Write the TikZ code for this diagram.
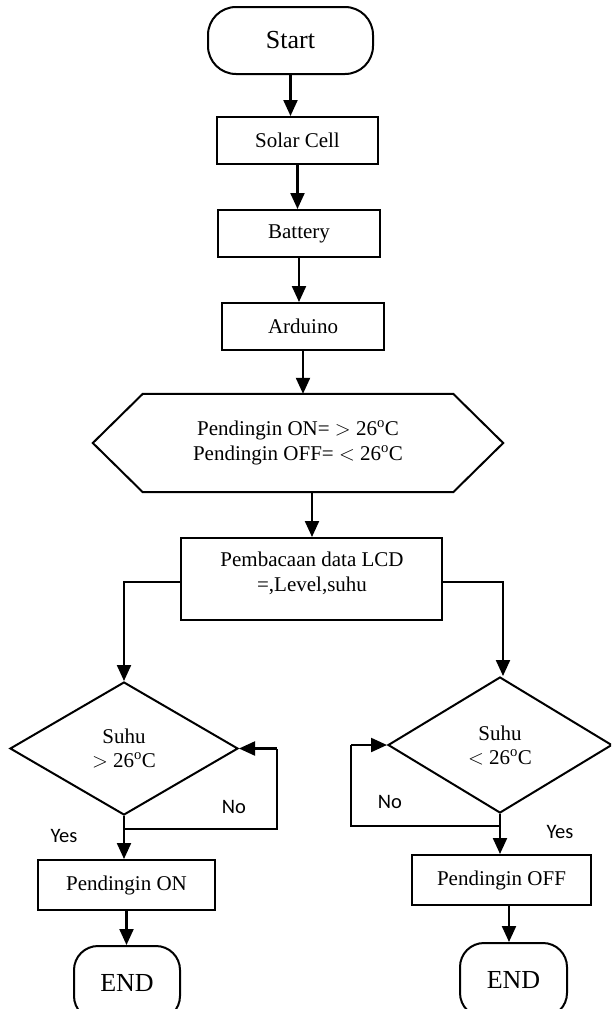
\documentclass[tikz,border=0pt]{standalone}
\usepackage{fontspec}
\setmainfont{Liberation Serif}
\newfontfamily\lblfont{Carlito}
\usetikzlibrary{shapes.geometric,arrows.meta,calc}
\begin{document}
\begin{tikzpicture}[x=1pt,y=-1pt,
  box/.style={draw,line width=2pt,inner sep=0pt,font=\fontsize{21}{25}\selectfont,align=center},
  term/.style={box,rounded corners=28pt,font=\fontsize{26}{30}\selectfont},
  endterm/.style={box,rounded corners=24pt,font=\fontsize{26}{30}\selectfont},
  dec/.style={draw,diamond,line width=2pt,inner sep=0pt,font=\fontsize{21}{24}\selectfont,align=center},
  txt/.style={font=\fontsize{21}{25}\selectfont,align=center,inner sep=0pt},
  arr/.style={line width=2.2pt,-{Triangle[length=16pt,width=14pt]}},
  conn/.style={line width=2.2pt},
  lbl/.style={font=\lblfont\fontsize{20.5}{24}\selectfont}]
\clip (0,0) rectangle (611,1009);
\fill[white] (0,0) rectangle (611,1009);

\node[term,minimum width=165pt,minimum height=67pt] (start) at (290.5,40.5) {Start};
\node[box,minimum width=161pt,minimum height=47pt] (solar) at (297.5,140.5) {Solar Cell};
\node[box,minimum width=162pt,minimum height=47pt] (battery) at (299,233.5) {Battery};
\node[box,minimum width=162pt,minimum height=47pt] (arduino) at (303,326.5) {Arduino};
\node[txt,minimum width=410pt,minimum height=98pt] (hex) at (298,443)
  {Pendingin ON= $>$ 26\textsuperscript{o}C\\Pendingin OFF= $<$ 26\textsuperscript{o}C};
\draw[line width=2pt] (hex.west) -- ($(hex.north west)+(50,0)$) -- ($(hex.north east)+(-50,0)$) -- (hex.east)
  -- ($(hex.south east)+(-50,0)$) -- ($(hex.south west)+(50,0)$) -- cycle;
\node[box,minimum width=261pt,minimum height=82pt] (lcd) at (311.5,579) {};
\node[txt] (lcdtext) at (312,573) {Pembacaan data LCD\\=,Level,suhu};

\node[dec,minimum width=228pt,minimum height=133pt] (d1) at (124,748.5) {Suhu\\$>$ 26\textsuperscript{o}C};
\node[dec,minimum width=224pt,minimum height=136pt] (d2) at (500,745) {Suhu\\$<$ 26\textsuperscript{o}C};

\node[box,minimum width=177pt,minimum height=50pt] (on) at (126.5,885) {Pendingin ON};
\node[box,minimum width=179pt,minimum height=50pt] (off) at (501.5,880) {Pendingin OFF};

\node[endterm,minimum width=106pt,minimum height=74pt] (end1) at (127,983) {END};
\node[endterm,minimum width=107pt,minimum height=74pt] (end2) at (513.5,980) {END};

\coordinate (l1) at (124,582);
\coordinate (r1) at (503,582);
\coordinate (lj) at (124,829);
\coordinate (lc1) at (277,829);
\coordinate (lc2) at (277,748.5);
\coordinate (rj) at (500,826);
\coordinate (rc1) at (351,826);
\coordinate (rc2) at (351,745);
\coordinate (o2) at (509,905);

\draw[arr] (start.south) -- (start.south |- solar.north);
\draw[arr] (solar.south) -- (solar.south |- battery.north);
\draw[arr] (battery.south) -- (battery.south |- arduino.north);
\draw[arr] (arduino.south) -- (arduino.south |- hex.north);
\draw[arr] (hex.south -| lcdtext.north) -- (lcdtext.north |- lcd.north);

\draw[arr] (lcd.west |- l1) -- (l1) -- (d1.north);
\draw[arr] (lcd.east |- r1) -- (r1) -- (r1 |- d2.north);

\draw[arr] (d1.south) -- (d1.south |- on.north);
\draw[conn] (lj) -- (lc1) -- (lc2);
\draw[arr] (lc2) -- (d1.east);
\draw[arr] (d2.south) -- (d2.south |- off.north);
\draw[conn] (rj) -- (rc1) -- (rc2);
\draw[arr] (rc2) -- (d2.west);

\draw[arr] (on.south) -- (on.south |- end1.north);
\draw[arr] (o2) -- (o2 |- end2.north);

\node[lbl] (yes1) at (64,836) {Yes};
\node[lbl] (no1) at (234,807) {No};
\node[lbl] (no2) at (390,802) {No};
\node[lbl] (yes2) at (560,832) {Yes};
\end{tikzpicture}
\end{document}
